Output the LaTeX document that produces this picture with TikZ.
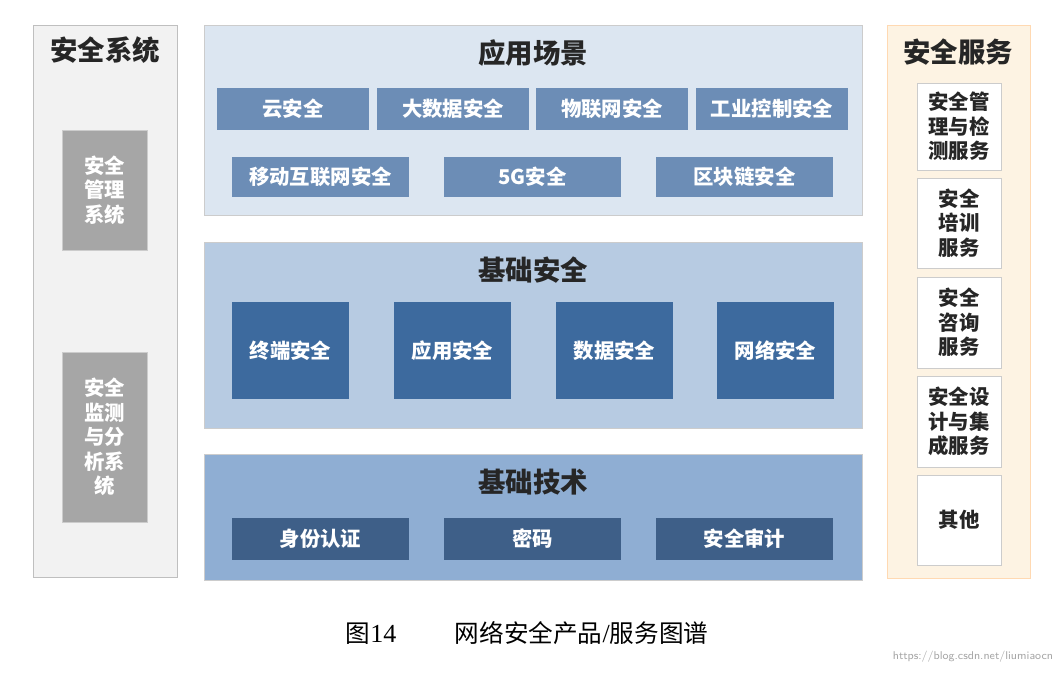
\documentclass[tikz,border=0pt]{standalone}
\usepackage{fontspec}
\setmainfont{Liberation Serif}
\newfontfamily\cjk{Noto Sans CJK SC}
\begin{document}
\begin{tikzpicture}[x=0.025cm,y=-0.025cm,
  tbox/.style={font=\cjk\bfseries\fontsize{14.5}{17.5}\selectfont, text=white, align=center, inner sep=0pt},
  ttl/.style={font=\cjk\bfseries\fontsize{19.5}{22}\selectfont, text=black!85},
]
\definecolor{lgray}{HTML}{F2F2F2}
\definecolor{mgray}{HTML}{A6A6A6}
\definecolor{pan1}{HTML}{DCE6F1}
\definecolor{pan2}{HTML}{B7CBE2}
\definecolor{pan3}{HTML}{8FAED3}
\definecolor{b1}{HTML}{6C8DB6}
\definecolor{b2}{HTML}{3D6A9E}
\definecolor{b3}{HTML}{3E5F88}
\definecolor{pan4}{HTML}{FDF3E3}
\useasboundingbox (0,0) rectangle (1064,676);
\fill[white] (0,0) rectangle (1064,676);
% left
\draw[fill=lgray, draw=black!25] (33,25) rectangle (177,577);
\node[ttl] (lt) at (105,50) {安全系统};
\draw[fill=mgray, draw=black!20] (62,130) rectangle (147,250);
\node[tbox] (l1) at (104.5,190) {安全\\管理\\系统};
\draw[fill=mgray, draw=black!20] (62,352) rectangle (147,522);
\node[tbox] (l2) at (104.5,437) {安全\\监测\\与分\\析系\\统};
% top
\draw[fill=pan1, draw=black!20] (204,25) rectangle (862,215);
\node[ttl] (t1) at (533,53) {应用场景};
\foreach \a/\b/\t [count=\i] in {217/369/云安全,377/529/大数据安全,536/688/物联网安全,696/848/工业控制安全}{
  \fill[b1] (\a,88) rectangle (\b,130);
  \node[tbox] (r1\i) at ({(\a+\b)/2},109) {\t};}
\foreach \a/\b/\t [count=\i] in {232/409/移动互联网安全,444/621/5G安全,656/833/区块链安全}{
  \fill[b1] (\a,157) rectangle (\b,197);
  \node[tbox] (r2\i) at ({(\a+\b)/2},177) {\t};}
% middle
\draw[fill=pan2, draw=black!20] (204,242) rectangle (862,428);
\node[ttl] (t2) at (533,270) {基础安全};
\foreach \a/\b/\t [count=\i] in {232/349/终端安全,394/511/应用安全,556/673/数据安全,717/834/网络安全}{
  \fill[b2] (\a,302) rectangle (\b,399);
  \node[tbox] (m\i) at ({(\a+\b)/2},350.5) {\t};}
% bottom
\draw[fill=pan3, draw=black!20] (204,454) rectangle (862,580);
\node[ttl] (t3) at (533,482) {基础技术};
\foreach \a/\b/\t [count=\i] in {232/409/身份认证,444/621/密码,656/833/安全审计}{
  \fill[b3] (\a,518) rectangle (\b,560);
  \node[tbox] (d\i) at ({(\a+\b)/2},539) {\t};}
% right
\draw[fill=pan4, draw=orange!30] (887,25) rectangle (1030,578);
\node[ttl] (rt) at (958,52) {安全服务};
\foreach \a/\b/\t [count=\i] in {83/170/{安全管\\理与检\\测服务},178/268/{安全\\培训\\服务},277/368/{安全\\咨询\\服务},376/467/{安全设\\计与集\\成服务},475/565/其他}{
  \draw[fill=white, draw=black!20] (917,\a) rectangle (1001,\b);
  \node[tbox, text=black!85] (s\i) at (959,{(\a+\b)/2}) {\t};}
\node[font=\fontsize{18.5}{20}\selectfont] (cap) at (527,633) {{\cjk\fontsize{17.5}{20}\selectfont 图}14\quad\quad\ {\cjk\fontsize{17.5}{20}\selectfont 网络安全产品}/{\cjk\fontsize{17.5}{20}\selectfont 服务图谱}};
\node[font=\sffamily\fontsize{8}{9}\selectfont, text=black!35, anchor=east] (wm) at (1058,657) {https://blog.csdn.net/liumiaocn};
\end{tikzpicture}
\end{document}
